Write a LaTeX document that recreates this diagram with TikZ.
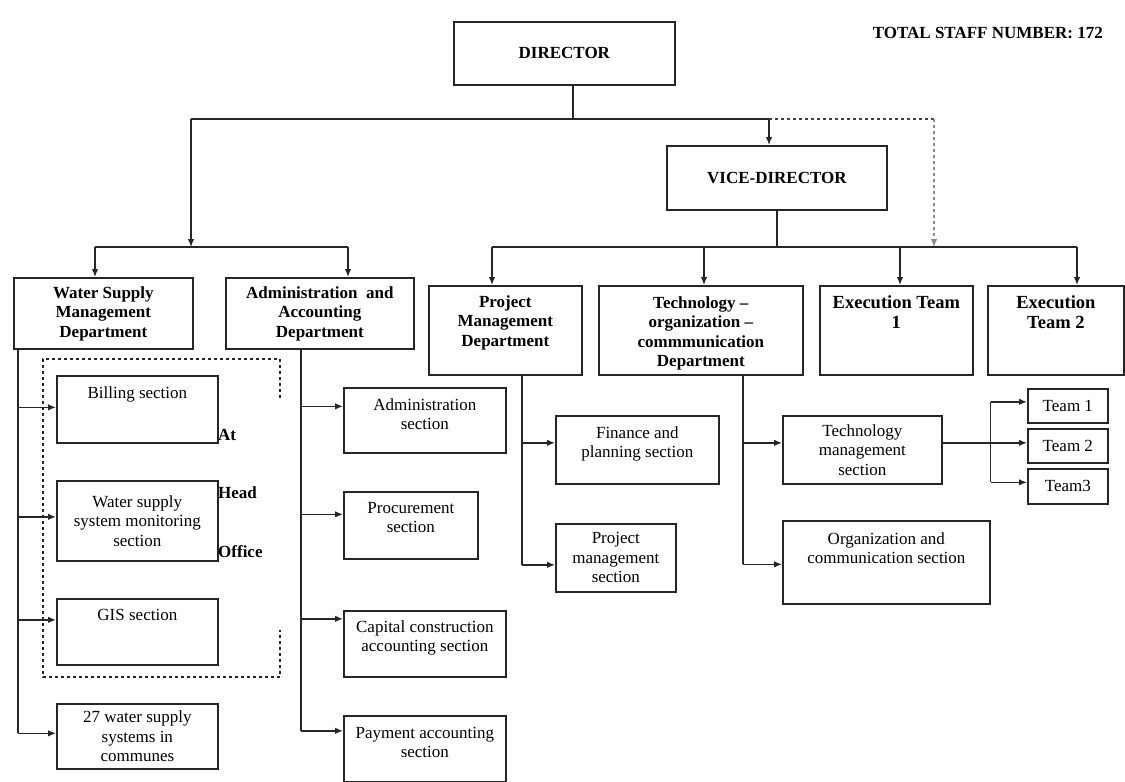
\documentclass[tikz,border=0pt]{standalone}
\usepackage{fontspec}
\setmainfont{Liberation Serif}
\usetikzlibrary{arrows.meta}

\tikzset{
  box/.style={draw=black!85, line width=1.7pt, anchor=north west, inner sep=0pt,
    align=center, font=\fontsize{17}{19.5}\selectfont},
  bbox/.style={box, font=\fontsize{17}{19.5}\selectfont\bfseries},
  sz/.style 2 args={minimum width=#1, minimum height=#2},
  toptxt/.style={anchor=north, align=center, inner sep=4pt, yshift=-7pt,
    font=\fontsize{17}{19.5}\selectfont},
  deptxt/.style={toptxt, yshift=2pt, font=\fontsize{17}{19.5}\selectfont\bfseries},
  exectxt/.style={toptxt, yshift=1pt, font=\fontsize{18.5}{20}\selectfont\bfseries},
  line/.style={draw=black!85, line width=1.3pt},
  arr/.style={line, -{Latex[length=8pt,width=6.5pt]}},
}

\begin{document}
\begin{tikzpicture}[x=1pt,y=-1pt]
    \useasboundingbox (0,0) rectangle (1125,782);

    % Dibuja la direccion
    \node[bbox, sz={221}{63}] (dir) at (453,21) {DIRECTOR};
    \node[anchor=east, inner sep=0pt, font=\fontsize{17}{19.5}\selectfont\bfseries] (total) at (1103,33) {TOTAL STAFF NUMBER: 172};
    \node[bbox, sz={220}{64}] (vice) at (666,145) {VICE-DIRECTOR};

    % Dibuja los departamentos
    \node[box, sz={179}{71}, label={[deptxt]north:{Water Supply\\Management\\Department}}] (wsd) at (13,277) {};
    \node[box, sz={188}{71}, label={[deptxt]north:{Administration~ and\\Accounting\\Department}}] (aad) at (225,277) {};
    \node[box, sz={153}{89}, label={[deptxt, yshift=-1pt]north:{Project\\Management\\Department}}] (pmd) at (428,285) {};
    \node[box, sz={204}{89}, label={[deptxt, yshift=-2pt]north:{Technology –\\organization –\\commmunication\\Department}}] (tocd) at (598,285) {};
    \node[box, sz={153}{89}, label={[exectxt]north:{Execution Team\\1}}] (et1) at (819,285) {};
    \node[box, sz={136}{89}, label={[exectxt]north:{Execution\\Team 2}}] (et2) at (987,285) {};

    % Dibuja las secciones
    \node[box, sz={161}{67}, label={[toptxt]north:{Billing section}}] (bill) at (56,375) {};
    \node[box, sz={161}{80}] (wsm) at (56,480) {Water supply\\system monitoring\\section};
    \node[box, sz={161}{66}, label={[toptxt]north:{GIS section}}] (gis) at (56,598) {};
    \node[box, sz={161}{65}] (ws27) at (56,703) {27 water supply\\systems in\\communes};
    \node[box, sz={162}{65}, label={[toptxt]north:{Administration\\section}}] (adms) at (343,387) {};
    \node[box, sz={134}{67}, label={[toptxt]north:{Procurement\\section}}] (proc) at (343,491) {};
    \node[box, sz={162}{66}, label={[toptxt, yshift=1pt]north:{Capital construction\\accounting section}}] (capc) at (343,610) {};
    \node[box, sz={162}{66}, label={[toptxt, yshift=-1pt]north:{Payment accounting\\section}}] (paym) at (343,715) {};
    \node[box, sz={163}{68}, label={[toptxt]north:{Finance and\\planning section}}] (fin) at (555,415) {};
    \node[box, sz={120}{68}] (pms) at (555,523) {Project\\management\\section};
    \node[box, sz={159}{68}] (tms) at (782,415) {Technology\\management\\section};
    \node[box, sz={207}{83}, label={[toptxt, yshift=-1pt]north:{Organization and\\communication section}}] (ocs) at (782,520) {};
    \node[box, sz={80}{34}] (t1) at (1027,388) {Team 1};
    \node[box, sz={80}{34}] (t2) at (1027,428) {Team 2};
    \node[box, sz={80}{35}] (t3) at (1027,468) {Team3};

    % Dibuja el marco de la oficina central
    \draw[black!85, line width=1.2pt, dashed] (280,398) -- (280,359) -- (43,359) -- (43,677) -- (280,677) -- (280,630);
    \node[anchor=west, inner sep=0pt, font=\fontsize{17}{19.5}\selectfont\bfseries] (at) at (218,435) {At};
    \node[anchor=west, inner sep=0pt, font=\fontsize{17}{19.5}\selectfont\bfseries] (head) at (218,493) {Head};
    \node[anchor=west, inner sep=0pt, font=\fontsize{17}{19.5}\selectfont\bfseries] (office) at (218,552) {Office};

    % Dibuja las lineas de mando
    \coordinate (hub) at (573,119);
    \coordinate (hubL) at (191,119);
    \coordinate (hubV) at (769,119);
    \coordinate (hubD) at (934,119);
    \coordinate (busL) at (191,247);
    \coordinate (busLa) at (95,247);
    \coordinate (busLb) at (348,247);
    \coordinate (busRa) at (492,247);
    \coordinate (busRb) at (1077,247);
    \coordinate (busRd) at (934,247);

    \draw[line] (hub |- dir.south) -- (hub);
    \draw[line] (hubL) -- (hubV);
    \draw[arr] (hubL) -- (busL);
    \draw[line] (busLa) -- (busLb);
    \draw[arr] (busLa) -- (busLa |- wsd.north);
    \draw[arr] (busLb) -- (busLb |- aad.north);
    \draw[arr] (hubV) -- (hubV |- vice.north);
    \draw[line, black!75, dashed] (hubV) -- (hubD);
    \draw[arr, draw=black!45, dashed] (hubD) -- (busRd);
    \draw[line] (vice.south) -- (vice.south |- busRa);
    \draw[line] (busRa) -- (busRb);
    \foreach \n/\x in {pmd/492, tocd/704, et1/900, et2/1077}
        \draw[arr] (\x,247) -- (\x,0 |- \n.north);

    % Dibuja las flechas hacia las secciones
    \coordinate (wsdS) at ([xshift=5]wsd.south west);
    \coordinate (aadS) at ([xshift=76]aad.south west);
    \coordinate (pmdS) at ([xshift=94]pmd.south west);
    \coordinate (tocdS) at ([xshift=145]tocd.south west);
    \foreach \n/\dy in {bill/2, wsm/4, gis/12, ws27/3, adms/14, proc/11, capc/25, paym/18, fin/7, pms/-7, tms/7, ocs/-2, t1/4, t2/3, t3/4}
        \coordinate (a-\n) at ([yshift=\dy]\n.west);
    \foreach \n in {bill, wsm, gis, ws27}
        \draw[arr] (a-\n -| wsdS) -- (a-\n);
    \foreach \n in {adms, proc, capc, paym}
        \draw[arr] (a-\n -| aadS) -- (a-\n);
    \foreach \n in {fin, pms}
        \draw[arr] (a-\n -| pmdS) -- (a-\n);
    \foreach \n in {tms, ocs}
        \draw[arr] (a-\n -| tocdS) -- (a-\n);
    \draw[line] (wsdS) -- (a-ws27 -| wsdS);
    \draw[line] (aadS) -- (a-paym -| aadS);
    \draw[line] (pmdS) -- (a-pms -| pmdS);
    \draw[line] (tocdS) -- (a-ocs -| tocdS);

    % Dibuja los equipos
    \coordinate (tj) at ([xshift=48,yshift=7]tms.east);
    \draw[line] ([yshift=7]tms.east) -- (tj);
    \draw[line] (a-t1 -| tj) -- (a-t3 -| tj);
    \foreach \n in {t1, t2, t3}
        \draw[arr] (a-\n -| tj) -- (a-\n);
\end{tikzpicture}
\end{document}
